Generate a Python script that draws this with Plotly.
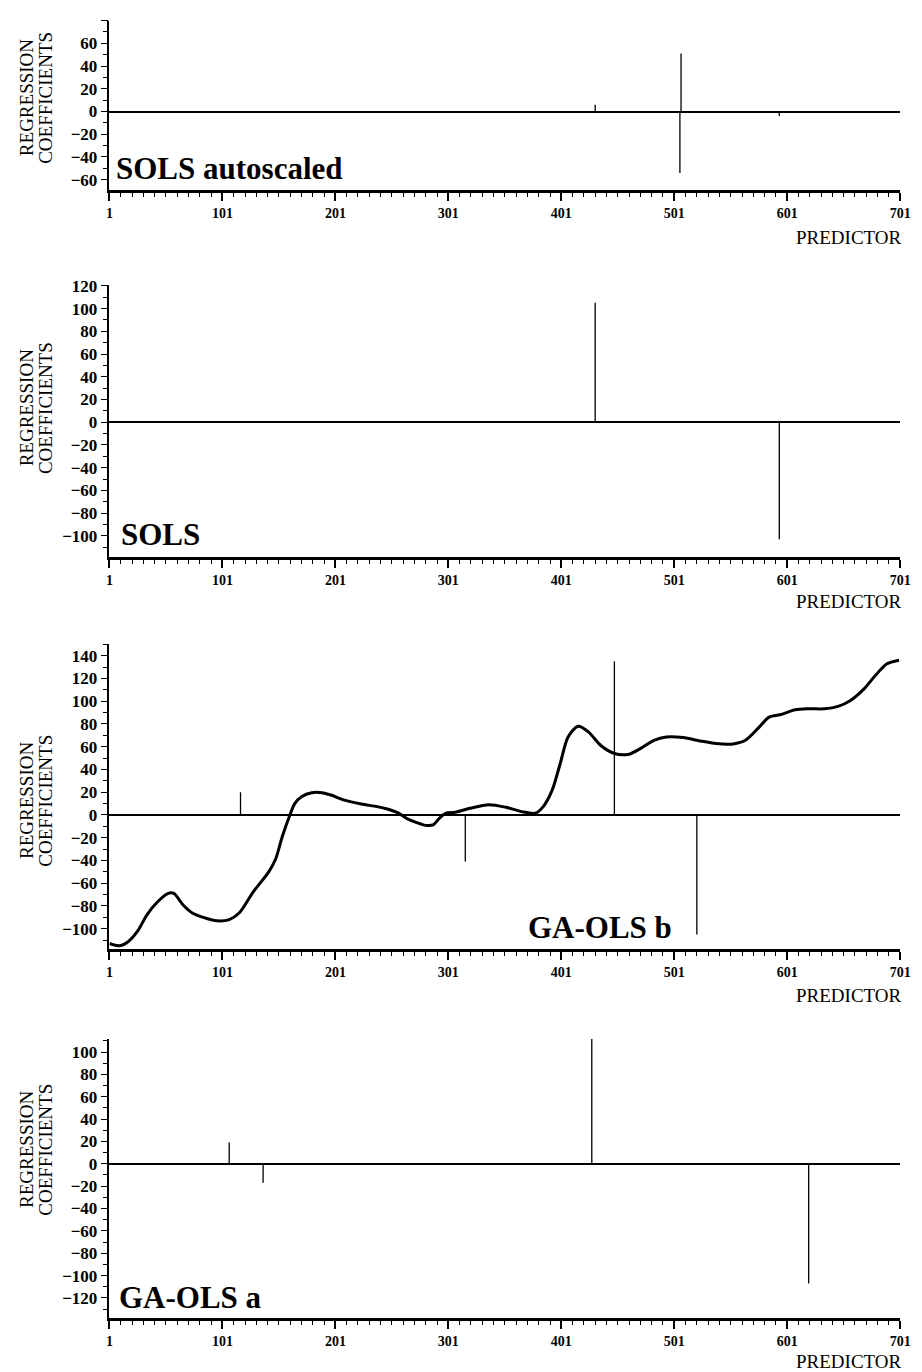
import plotly.graph_objects as go

# ---- data: regression coefficients per predictor index ----
sols_auto_pred = [431, 506, 507, 594]
sols_auto_coef = [6, -54, 51, -4]

sols_pred = [431, 594]
sols_coef = [105, -103]

gaolsb_pred = [117, 316, 448, 521]
gaolsb_coef = [20, -41, 135, -105]

# smooth coefficient profile shown with GA-OLS b
profile_pred = [1, 10, 18, 26, 34, 43, 53, 58, 66, 74, 84, 96, 107, 116, 128, 142,
                148, 154, 160, 165, 171, 180, 189, 197, 209, 224, 238, 247, 256,
                264, 273, 282, 288, 293, 299, 307, 320, 337, 352, 366, 378, 385,
                393, 400, 407, 416, 425, 436, 448, 461, 471, 483, 494, 509, 524,
                538, 553, 564, 576, 585, 596, 608, 620, 634, 646, 657, 669, 679,
                689, 700]
profile_coef = [-113, -115, -111, -102, -88, -77, -69, -69, -79, -86, -90, -93,
                -92, -86, -68, -50, -39, -19, -2, 10, 16, 19.5, 19.5, 17.5, 13,
                9.6, 7.3, 5.2, 2, -3, -6.7, -9.3, -8.5, -3, 1.5, 2.3, 5.8, 9, 6.7,
                2.9, 1.5, 7.3, 22, 45, 68.5, 78, 73, 61, 54, 53.4, 58.3, 65.6,
                68.5, 68, 65, 62.7, 62.4, 65.6, 77, 86, 88.4, 92.4, 93.3, 93.3,
                95.4, 100.6, 110.8, 122.5, 132.7, 136]

gaolsa_pred = [107, 137, 428, 620]
gaolsa_coef = [19, -17, 112, -107]

panel_titles = ["SOLS autoscaled", "SOLS", "GA-OLS b", "GA-OLS a"]
y_ranges = [[-69, 80], [-119, 121], [-118, 150], [-138, 112]]
# labelled y values per panel (other multiples of 20 get an unlabelled tick)
y_labelled = [[-60, -40, -20, 0, 20, 40, 60],
              [-100, -80, -60, -40, -20, 0, 20, 40, 60, 80, 100, 120],
              [-100, -80, -60, -40, -20, 0, 20, 40, 60, 80, 100, 120, 140],
              [-120, -100, -80, -60, -40, -20, 0, 20, 40, 60, 80, 100]]
x_ticks = [1, 101, 201, 301, 401, 501, 601, 701]

W, H = 922, 1372
FONT = "Liberation Serif"

# panel frames in page pixels: (top, bottom)
frames = [(12.7, 183.0), (278.3, 552.7), (640.0, 946.7), (1036.7, 1317.7)]
x_left, x_right = 108.0, 910.0


def stems(px, vals):
    xs, ys = [], []
    for p, v in zip(px, vals):
        xs += [p, p, None]
        ys += [0, v, None]
    return xs, ys


def y_tick_lists(rng, labelled):
    lo = int(rng[0] // 20) * 20
    vals = [v for v in range(lo, int(rng[1]) + 1, 20) if rng[0] <= v <= rng[1]]
    text = [(str(v).replace("-", "\u2212") if v in labelled else "") for v in vals]
    return vals, text


fig = go.Figure()

stem_sets = [(sols_auto_pred, sols_auto_coef), (sols_pred, sols_coef),
             (gaolsb_pred, gaolsb_coef), (gaolsa_pred, gaolsa_coef)]

for i, (px, vals) in enumerate(stem_sets):
    n = "" if i == 0 else str(i + 1)
    xs, ys = stems(px, vals)
    fig.add_trace(go.Scatter(x=xs, y=ys, mode="lines",
                             line=dict(color="black", width=1.3),
                             xaxis="x" + n, yaxis="y" + n,
                             showlegend=False, hoverinfo="skip"))
    if i == 2:
        fig.add_trace(go.Scatter(x=profile_pred, y=profile_coef, mode="lines",
                                 line=dict(color="black", width=3,
                                           shape="spline", smoothing=0.8),
                                 xaxis="x3", yaxis="y3",
                                 showlegend=False, hoverinfo="skip"))

layout = dict(width=W, height=H, margin=dict(l=0, r=0, t=0, b=0),
              paper_bgcolor="white", plot_bgcolor="white", showlegend=False,
              font=dict(family=FONT, color="black"))

annotations = []
title_pos = [(113, 161), (118, 530), (530, 925), (116, 1297)]
label_y = [90, 402, 797, 1148]
pred_y = [230.5, 597, 993, 1361]

for i, (top, bot) in enumerate(frames):
    n = "" if i == 0 else str(i + 1)
    xd = [x_left / W, x_right / W]
    yd = [1 - bot / H, 1 - top / H]
    layout["xaxis" + n] = dict(
        domain=xd, anchor="y" + n, range=[1, 701],
        tickmode="array", tickvals=x_ticks, ticktext=[str(t) for t in x_ticks],
        ticks="outside", ticklen=8, tickwidth=1.5, tickcolor="black",
        minor=dict(tickmode="linear", tick0=1, dtick=10, ticks="outside",
                   ticklen=4, tickwidth=1, tickcolor="black"),
        showline=True, linewidth=3, linecolor="black",
        showgrid=False, zeroline=False,
        tickfont=dict(family=FONT, size=14, color="black", weight="bold"),
        fixedrange=True)
    tv, tt = y_tick_lists(y_ranges[i], y_labelled[i])
    layout["yaxis" + n] = dict(
        domain=yd, anchor="x" + n, range=y_ranges[i],
        tickmode="array", tickvals=tv, ticktext=tt,
        ticks="outside", ticklen=7, tickwidth=1.3, tickcolor="black",
        minor=dict(tickmode="linear", tick0=0, dtick=10, ticks="outside",
                   ticklen=5, tickwidth=1, tickcolor="black"),
        showline=True, linewidth=1.5, linecolor="black",
        showgrid=False, zeroline=True, zerolinecolor="black", zerolinewidth=1.5,
        tickfont=dict(family=FONT, size=17, color="black", weight="bold"),
        fixedrange=True)

    annotations.append(dict(text=panel_titles[i], xref="paper", yref="paper",
                            x=title_pos[i][0] / W, y=1 - title_pos[i][1] / H,
                            xanchor="left", yanchor="middle", showarrow=False,
                            font=dict(family=FONT, size=31, color="black",
                                      weight="bold")))
    for txt, cx in (("REGRESSION", 24), ("COEFFICIENTS", 43)):
        annotations.append(dict(text=txt, xref="paper", yref="paper",
                                x=cx / W, y=1 - label_y[i] / H,
                                xanchor="center", yanchor="middle",
                                textangle=-90, showarrow=False,
                                font=dict(family=FONT, size=19, color="black")))
    annotations.append(dict(text="PREDICTOR", xref="paper", yref="paper",
                            x=914 / W, y=1 - pred_y[i] / H,
                            xanchor="right", yanchor="middle", showarrow=False,
                            font=dict(family=FONT, size=19, color="black")))

layout["annotations"] = annotations
fig.update_layout(**layout)

# the page itself should add no margin around the fixed-size figure
fig.write_html("out.html", config={"displayModeBar": False},
               post_script="document.body.style.margin='0';"
                           "document.body.style.overflow='hidden';")
